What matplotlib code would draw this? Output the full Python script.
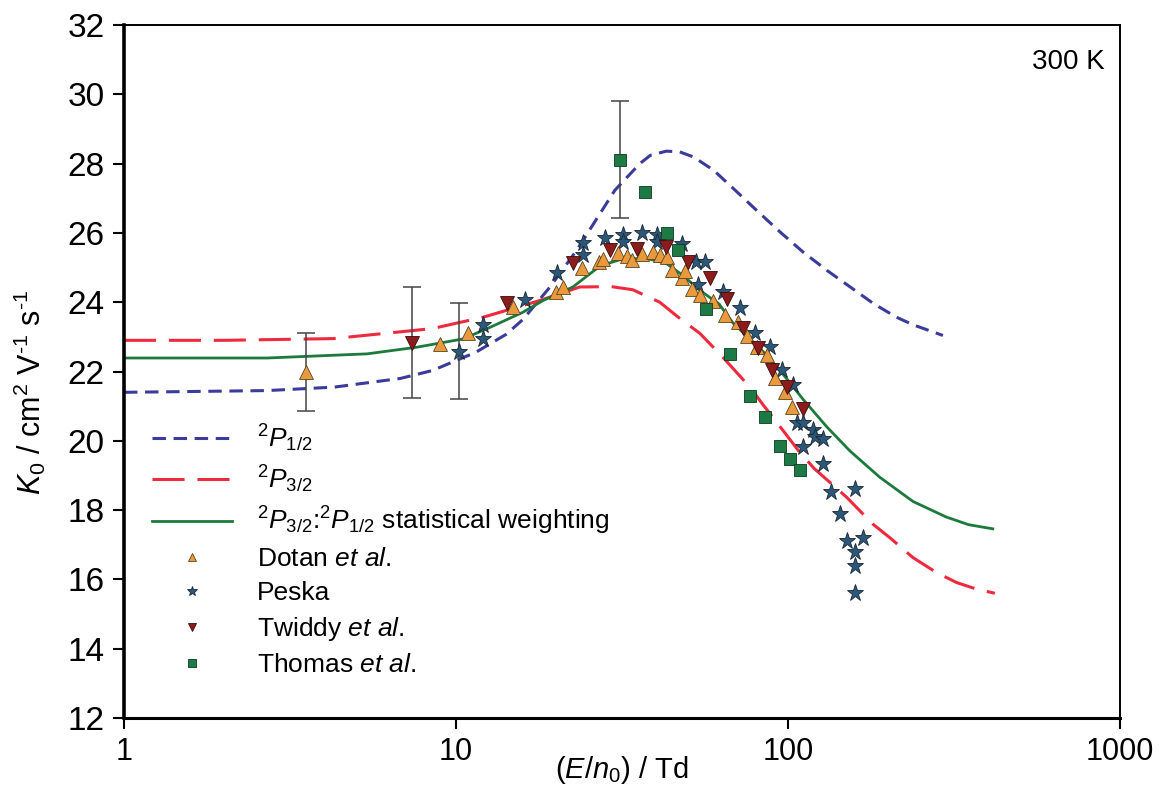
import matplotlib
matplotlib.use('Agg')
import matplotlib.pyplot as plt
from matplotlib.ticker import FixedLocator, FixedFormatter

plt.rcParams['font.family'] = ['Liberation Sans', 'DejaVu Sans']
plt.rcParams['mathtext.fontset'] = 'custom'
plt.rcParams['mathtext.rm'] = 'Liberation Sans'
plt.rcParams['mathtext.it'] = 'Liberation Sans:italic'
plt.rcParams['mathtext.bf'] = 'Liberation Sans:bold'

#----------------------- data -----------------------
# model curves: E/n0 (Td) and K0 (cm2 V-1 s-1)
p12_x = [1, 2.7, 4.3, 6.8, 8.5, 11.5, 14.2, 15.9, 19.2, 23.1, 30.1, 35.8, 38.5, 43, 47.2,
         52, 59.7, 68.5, 80.5, 94.6, 111, 131, 154, 181, 212, 238, 293]
p12_y = [21.4, 21.45, 21.55, 21.8, 22.03, 22.56, 23.08, 23.5, 24.44, 25.5, 27.23, 28.0, 28.24, 28.36, 28.34,
         28.19, 27.81, 27.28, 26.65, 26.03, 25.45, 24.92, 24.44, 23.96, 23.57, 23.35, 23.04]

p32_x = [1, 2, 4.27, 8.5, 12.1, 17.9, 23.6, 29.4, 34.1, 41.1, 46.7, 54.3, 63.7, 76.8, 84,
         96.6, 108.5, 120, 133.8, 150.3, 180, 203, 238, 280, 322, 370, 420]
p32_y = [22.9, 22.9, 22.95, 23.24, 23.57, 24.05, 24.44, 24.45, 24.36, 24.0, 23.57, 23.1, 22.41, 21.55, 21.05,
         20.3, 19.67, 19.2, 18.8, 18.37, 17.6, 17.2, 16.63, 16.2, 15.91, 15.72, 15.6]

stat_x = [1, 2.7, 5.4, 7.6, 10.5, 12.7, 15.9, 18.3, 22.5, 27.2, 31, 37, 43, 48.3, 54.3,
          62, 68.3, 76.8, 86.2, 99, 111, 131, 154, 189, 238, 300, 350, 414]
stat_y = [22.39, 22.39, 22.51, 22.7, 22.94, 23.28, 23.71, 24.05, 24.44, 25.05, 25.22, 25.28, 25.12, 24.77, 24.34,
          23.95, 23.4, 22.94, 22.48, 21.8, 21.2, 20.4, 19.7, 18.95, 18.25, 17.8, 17.58, 17.46]

# measurements
dotan_x = [3.53, 8.95, 10.9, 14.9, 20.0, 21.0, 24.0, 27.0, 27.8, 30.7, 32.8, 33.9, 36.4, 39.2, 41.1,
           43.2, 44.7, 48.1, 49.0, 51.4, 54.3, 59.5, 64.8, 70.7, 75.5, 80.7, 86.5, 91.4, 98.0, 102.8]
dotan_y = [22.0, 22.8, 23.1, 23.85, 24.3, 24.44, 24.98, 25.15, 25.26, 25.43, 25.32, 25.22, 25.4, 25.45, 25.35,
           25.3, 24.92, 24.7, 24.9, 24.37, 24.2, 24.03, 23.62, 23.42, 23.02, 22.7, 22.48, 21.8, 21.4, 20.99]

peska_x = [10.2, 12.1, 12.1, 16.1, 20.1, 24.1, 24.1, 28.1, 31.8, 31.8, 36.3, 40.2, 40.2, 47.8, 53.0,
           56.2, 53.6, 63.7, 71.7, 79.8, 88.2, 95.7, 103.5, 106.3, 111, 119, 120.5, 127.6, 111, 127.6,
           135, 159, 143.5, 150.6, 168, 159, 159, 159]
peska_y = [22.55, 23.33, 22.93, 24.05, 24.83, 25.35, 25.7, 25.84, 25.93, 25.74, 25.99, 25.93, 25.75, 25.69, 25.16,
           25.16, 24.49, 24.29, 23.82, 23.1, 22.7, 22.03, 21.6, 20.52, 20.5, 20.3, 20.1, 20.05, 19.81, 19.34,
           18.51, 18.62, 17.9, 17.12, 17.2, 16.78, 16.39, 15.62]

twiddy_x = [7.35, 14.2, 22.5, 29.1, 35.2, 42.8, 50.0, 58.2, 65.3, 73.3, 81.5, 89.3, 99.3, 111]
twiddy_y = [22.82, 23.97, 25.12, 25.5, 25.53, 25.6, 25.15, 24.69, 24.1, 23.26, 22.68, 22.03, 21.54, 20.93]

thomas_x = [31.2, 37.1, 43.1, 46.8, 56.8, 66.9, 76.8, 85.2, 94.6, 101.4, 108.7]
thomas_y = [28.1, 27.18, 26.0, 25.52, 23.79, 22.5, 21.28, 20.68, 19.86, 19.48, 19.16]

# error bars: point, lower and upper limits
err_x = [3.53, 7.35, 10.2, 31.2]
err_y = [22.0, 22.82, 22.55, 28.1]
err_lo = [20.87, 21.25, 21.2, 26.42]
err_hi = [23.1, 24.43, 23.97, 29.8]

xticks = [1, 10, 100, 1000]
xticklabels = ['1', '10', '100', '1000']
yticks = [12, 14, 16, 18, 20, 22, 24, 26, 28, 30, 32]
#-------------------------------------------------------------------------

fig = plt.figure(figsize=(11.62, 7.97), dpi=100)
ax = fig.add_axes([0.1067, 0.0991, 0.8571, 0.8695])

l1, = ax.plot(p12_x, p12_y, color='#3b3b9c', lw=2.2, dashes=(4.4, 2.5),
              label=r'$^{2}P_{1/2}$', zorder=2)
l2, = ax.plot(p32_x, p32_y, color='#ee2a3f', lw=2.2, dashes=(10.5, 4.2),
              label=r'$^{2}P_{3/2}$', zorder=2)
l3, = ax.plot(stat_x, stat_y, color='#1d7a3d', lw=2.0,
              label=r'$^{2}P_{3/2}$:$^{2}P_{1/2}$ statistical weighting', zorder=2)

yerr = [[y - lo for y, lo in zip(err_y, err_lo)], [hi - y for y, hi in zip(err_y, err_hi)]]
ax.errorbar(err_x, err_y, yerr=yerr, fmt='none', ecolor='#444444', elinewidth=1.1,
            capsize=6.5, capthick=1.1, zorder=3)

m1, = ax.plot(peska_x, peska_y, ls='none', marker='*', ms=12.5, mfc='#2b5878', mec='#1a2633',
              mew=0.6, label='Peska', zorder=4)
m2, = ax.plot(dotan_x, dotan_y, ls='none', marker='^', ms=10.5, mfc='#e99a3c', mec='#5a4322',
              mew=0.6, label=r'Dotan $et\ al.$', zorder=5)
m3, = ax.plot(twiddy_x, twiddy_y, ls='none', marker='v', ms=10.5, mfc='#8c1c1c', mec='#3a0a0a',
              mew=0.6, label=r'Twiddy $et\ al.$', zorder=5)
m4, = ax.plot(thomas_x, thomas_y, ls='none', marker='s', ms=8.8, mfc='#1e7a45', mec='#0b3a1c',
              mew=0.6, label=r'Thomas $et\ al.$', zorder=6)

ax.set_xscale('log')
ax.set_xlim(1, 1000)
ax.set_ylim(12, 32)
ax.xaxis.set_major_locator(FixedLocator(xticks))
ax.xaxis.set_major_formatter(FixedFormatter(xticklabels))
ax.xaxis.set_minor_locator(FixedLocator([]))
ax.set_yticks(yticks)

ax.tick_params(axis='both', direction='out', length=8, width=1.5, pad=6)
ax.tick_params(axis='y', labelsize=24)
ax.tick_params(axis='x', labelsize=22)
ax.spines['left'].set_linewidth(2.6)
ax.spines['bottom'].set_linewidth(2.2)
ax.spines['top'].set_linewidth(1.4)
ax.spines['right'].set_linewidth(1.4)

ax.set_xlabel(r'($E$/$n_0$) / Td', fontsize=21)
ax.xaxis.set_label_coords(0.5, -0.052)
ax.set_ylabel(r'$K_0$ / cm$^2$ V$^{‐1}$ s$^{‐1}$', fontsize=22)
ax.yaxis.set_label_coords(-0.076, 0.47)

ax.text(0.985, 0.965, '300 K', transform=ax.transAxes, ha='right', va='top', fontsize=20)

ax.legend(handles=[l1, l2, l3, m2, m1, m3, m4], loc='upper left',
          bbox_to_anchor=(0.018, 0.442), frameon=False, fontsize=19,
          handlelength=3.0, handletextpad=0.95, labelspacing=0.38, markerscale=0.6,
          borderaxespad=0)

fig.savefig('out.png', dpi=100)
